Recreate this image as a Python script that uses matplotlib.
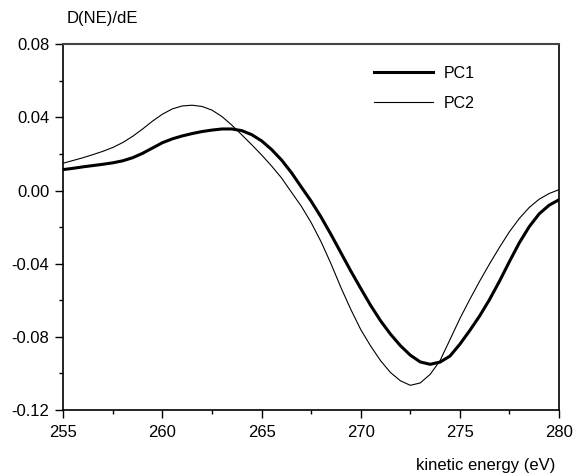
import matplotlib
matplotlib.use("Agg")
import matplotlib.pyplot as plt
import numpy as np
from matplotlib.ticker import MultipleLocator, FuncFormatter

plt.rcParams["font.family"] = ["Liberation Sans", "DejaVu Sans"]
plt.rcParams["axes.unicode_minus"] = False

# kinetic energy grid (eV)
energy = [
    255.0, 255.5, 256.0, 256.5, 257.0, 257.5, 258.0, 258.5, 259.0, 259.5,
    260.0, 260.5, 261.0, 261.5, 262.0, 262.5, 263.0, 263.5, 264.0, 264.5,
    265.0, 265.5, 266.0, 266.5, 267.0, 267.5, 268.0, 268.5, 269.0, 269.5,
    270.0, 270.5, 271.0, 271.5, 272.0, 272.5, 273.0, 273.5, 274.0, 274.5,
    275.0, 275.5, 276.0, 276.5, 277.0, 277.5, 278.0, 278.5, 279.0, 279.5,
    280.0,
]
pc1 = [
    0.0115, 0.0122, 0.0130, 0.0137, 0.0144, 0.0152, 0.0163, 0.0180, 0.0204, 0.0233,
    0.0262, 0.0283, 0.0299, 0.0312, 0.0323, 0.0331, 0.0337, 0.0337, 0.0328, 0.0306,
    0.0272, 0.0225, 0.0168, 0.0099, 0.0020, -0.0058, -0.0145, -0.0240, -0.0340, -0.0440,
    -0.0535, -0.0628, -0.0712, -0.0785, -0.0848, -0.0900, -0.0937, -0.0950, -0.0938, -0.0905,
    -0.0840, -0.0765, -0.0685, -0.0595, -0.0495, -0.0388, -0.0285, -0.0197, -0.0127, -0.0080,
    -0.0050,
]
pc2 = [
    0.0150, 0.0165, 0.0180, 0.0197, 0.0215, 0.0236, 0.0263, 0.0297, 0.0337, 0.0380,
    0.0418, 0.0447, 0.0463, 0.0467, 0.0460, 0.0440, 0.0405, 0.0358, 0.0305, 0.0251,
    0.0195, 0.0135, 0.0070, -0.0008, -0.0085, -0.0175, -0.0280, -0.0400, -0.0530, -0.0650,
    -0.0760, -0.0850, -0.0930, -0.0995, -0.1040, -0.1065, -0.1052, -0.1005, -0.0930, -0.0815,
    -0.0700, -0.0595, -0.0495, -0.0400, -0.0310, -0.0225, -0.0152, -0.0092, -0.0047, -0.0016,
    0.0005,
]

fig = plt.figure(figsize=(5.73, 4.75), dpi=100)
ax = fig.add_axes([0.1105, 0.1368, 0.8651, 0.7699])

ax.plot(energy, pc1, color="black", lw=2.2, label="PC1", solid_joinstyle="round")
ax.plot(energy, pc2, color="black", lw=0.8, label="PC2", solid_joinstyle="round")

ax.set_xlim(255, 280)
ax.set_ylim(-0.12, 0.08)
ax.xaxis.set_major_locator(MultipleLocator(5))
ax.xaxis.set_minor_locator(MultipleLocator(2.5))
ax.yaxis.set_major_locator(MultipleLocator(0.04))
ax.yaxis.set_minor_locator(MultipleLocator(0.02))
ax.yaxis.set_major_formatter(FuncFormatter(lambda v, p: "%.2f" % (round(v, 4) + 0.0)))
ax.xaxis.set_major_formatter(FuncFormatter(lambda v, p: "%d" % round(v)))

ax.tick_params(which="major", direction="out", length=6, width=1, labelsize=12)
ax.tick_params(which="minor", direction="out", length=3, width=1)
ax.tick_params(axis="x", which="major", pad=5)
ax.tick_params(axis="y", which="major", pad=4)
ax.tick_params(top=False, right=False, which="both")

for side in ["left", "bottom", "right"]:
    ax.spines[side].set_linewidth(1.2)
    ax.spines[side].set_color("black")
ax.spines["top"].set_linewidth(1.5)
ax.spines["top"].set_color("#444444")

fig.text(0.1164, 0.962, "D(NE)/dE", fontsize=12, ha="left", va="center")
fig.text(0.970, 0.019, "kinetic energy (eV)", fontsize=12, ha="right", va="center")

ax.legend(loc="center left", bbox_to_anchor=(0.6527, 0.8137), bbox_transform=fig.transFigure,
          frameon=False, fontsize=11.5, handlelength=3.7, handletextpad=0.65,
          labelspacing=0.95, borderpad=0, borderaxespad=0)

fig.savefig("out.png", dpi=100)
